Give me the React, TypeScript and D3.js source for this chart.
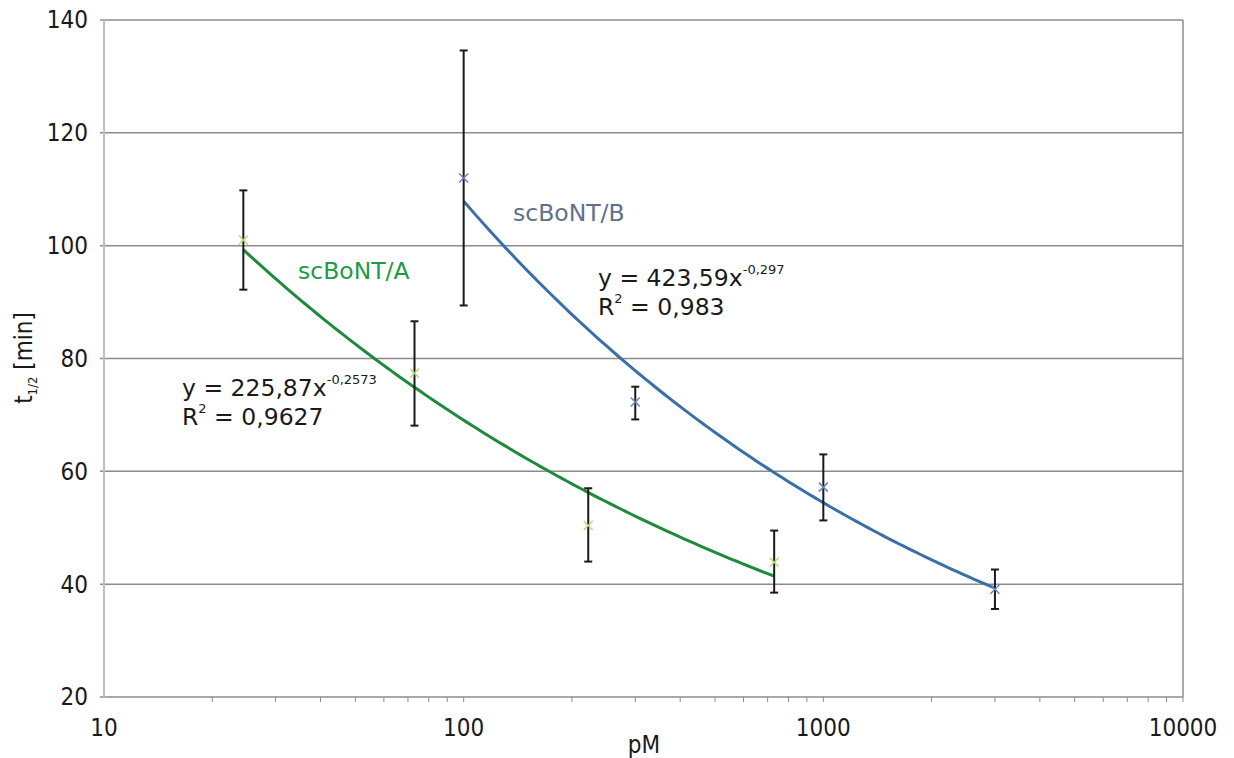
import * as d3 from "d3"

// measured points (concentration in pM, t1/2 in min, error bar low/high)
const aConc = [24.4, 73, 222, 730]
const aVal = [101, 77.4, 50.4, 43.9]
const aLow = [92.2, 68.1, 44.0, 38.5]
const aHigh = [109.8, 86.6, 57.0, 49.5]

const bConc = [100, 300, 1000, 3000]
const bVal = [112, 72.3, 57.2, 39.1]
const bLow = [89.4, 69.2, 51.3, 35.6]
const bHigh = [134.6, 75.0, 63.0, 42.6]

// power trendlines y = a * x^b, as printed on the chart
const aFit = { coef: 225.87, exp: -0.2573, coefText: "225,87", expText: "-0,2573", r2: "0,9627" }
const bFit = { coef: 423.59, exp: -0.297, coefText: "423,59", expText: "-0,297", r2: "0,983" }

const yTicks = [20, 40, 60, 80, 100, 120, 140]
const xMajor = [10, 100, 1000, 10000]

const W = 1234
const H = 758
const M = { left: 104, right: 51, top: 20, bottom: 61 }
const FONT = "'DejaVu Sans Condensed', 'DejaVu Sans', sans-serif"
const LABEL_FONT = "'DejaVu Sans', sans-serif"

const App = () => {
  const x = d3.scaleLog().domain([10, 10000]).range([M.left, W - M.right])
  const y = d3.scaleLinear().domain([20, 140]).range([H - M.bottom, M.top])

  const minorTicks: number[] = []
  for (const base of [10, 100, 1000]) {
    for (let k = 2; k <= 10; k++) minorTicks.push(base * k)
  }

  const fitLine = (fit: typeof aFit, x0: number, x1: number) => {
    const xs = d3.range(0, 101).map(i => x0 * Math.pow(x1 / x0, i / 100))
    return d3.line<number>()
      .x(v => x(v))
      .y(v => y(fit.coef * Math.pow(v, fit.exp)))(xs) || ""
  }

  const errorBars = (conc: number[], low: number[], high: number[], key: string) =>
    conc.map((c, i) => {
      const cx = x(c)
      return (
        <g key={key + i} stroke="#1a1a1a" strokeWidth={2}>
          <line x1={cx} x2={cx} y1={y(low[i])} y2={y(high[i])} />
          <line x1={cx - 4} x2={cx + 4} y1={y(low[i])} y2={y(low[i])} />
          <line x1={cx - 4} x2={cx + 4} y1={y(high[i])} y2={y(high[i])} />
        </g>
      )
    })

  const markers = (conc: number[], vals: number[], color: string, key: string) =>
    conc.map((c, i) => {
      const cx = x(c)
      const cy = y(vals[i])
      return (
        <path key={key + i} d={`M${cx - 4.5},${cy - 4.5}L${cx + 4.5},${cy + 4.5}M${cx - 4.5},${cy + 4.5}L${cx + 4.5},${cy - 4.5}`}
          stroke={color} strokeWidth={1.5} fill="none" />
      )
    })

  const bottom = H - M.bottom

  return (
    <svg width={W} height={H} style={{ position: "absolute", left: 0, top: 0, background: "#fff" }} fontFamily={FONT}>
      {/* gridlines */}
      {yTicks.map(t => (
        <line key={t} x1={M.left - 4} x2={W - M.right} y1={y(t)} y2={y(t)} stroke="#8c8c8c" strokeWidth={1.5} />
      ))}
      {/* axes */}
      <line x1={M.left} x2={M.left} y1={M.top} y2={bottom} stroke="#c0c0c0" strokeWidth={2} />
      <line x1={W - M.right} x2={W - M.right} y1={M.top} y2={bottom} stroke="#8c8c8c" strokeWidth={1.5} />
      {minorTicks.map(t => (
        <line key={t} x1={x(t)} x2={x(t)} y1={bottom} y2={bottom + 5} stroke="#8c8c8c" strokeWidth={1} />
      ))}
      {yTicks.map(t => (
        <text key={t} x={88} y={y(t)} dy="0.35em" textAnchor="end" fontSize={24} fill="#1a1a1a">{t}</text>
      ))}
      {xMajor.map(t => (
        <text key={t} x={x(t)} y={736} textAnchor="middle" fontSize={24} fill="#1a1a1a">{t}</text>
      ))}
      <text x={644} y={753} textAnchor="middle" fontSize={24} fill="#1a1a1a">pM</text>
      <text transform="translate(32,358) rotate(-90)" textAnchor="middle" fontSize={24} fill="#1a1a1a">
        t<tspan fontSize={13} dy="5">1/2</tspan><tspan dy="-5"> [min]</tspan>
      </text>

      {/* trendlines */}
      <path d={fitLine(aFit, aConc[0], aConc[aConc.length - 1])} fill="none" stroke="#1f8a3c" strokeWidth={3} />
      <path d={fitLine(bFit, bConc[0], bConc[bConc.length - 1])} fill="none" stroke="#3a70a8" strokeWidth={3} />

      {errorBars(aConc, aLow, aHigh, "ea")}
      {errorBars(bConc, bLow, bHigh, "eb")}
      {markers(aConc, aVal, "#b6d97a", "ma")}
      {markers(bConc, bVal, "#6c80bd", "mb")}

      {/* labels */}
      <g fontFamily={LABEL_FONT} fontSize={23.5}>
        <text x={298} y={279} fill="#1f9a46">scBoNT/A</text>
        <text x={513} y={221} fill="#5f6f8c">scBoNT/B</text>

        <text x={182} y={396} fill="#1a1a1a">
          y = {aFit.coefText}x<tspan fontSize={13} dy="-12">{aFit.expText}</tspan>
        </text>
        <text x={182} y={425} fill="#1a1a1a">
          R<tspan fontSize={13} dy="-12">2</tspan><tspan dy="12"> = {aFit.r2}</tspan>
        </text>
        <text x={598} y={286} fill="#1a1a1a">
          y = {bFit.coefText}x<tspan fontSize={13} dy="-12">{bFit.expText}</tspan>
        </text>
        <text x={598} y={315} fill="#1a1a1a">
          R<tspan fontSize={13} dy="-12">2</tspan><tspan dy="12"> = {bFit.r2}</tspan>
        </text>
      </g>
    </svg>
  )
}

export default App
